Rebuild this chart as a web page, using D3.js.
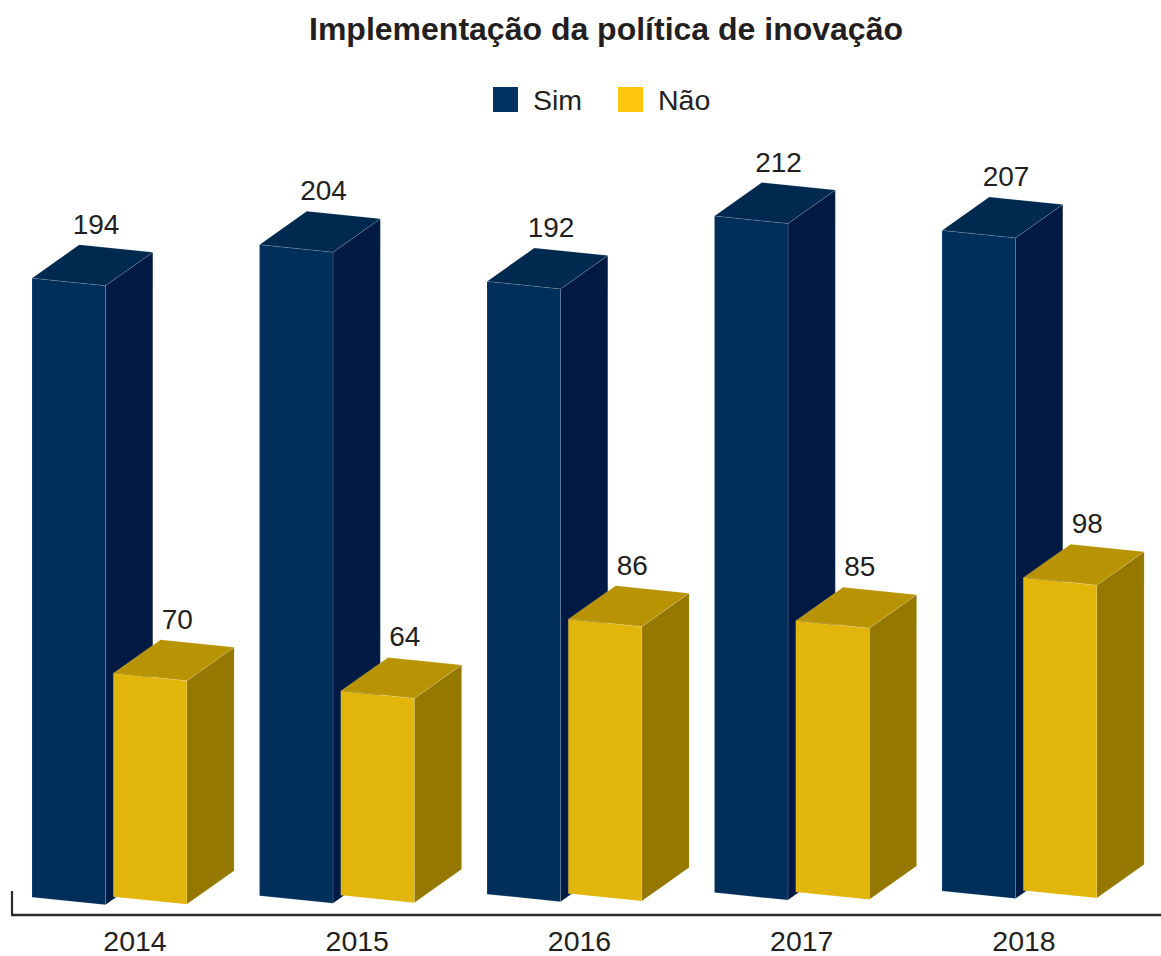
<!DOCTYPE html>
<html>
<head>
<meta charset="utf-8">
<script src="https://cdn.jsdelivr.net/npm/d3@7/dist/d3.min.js"></script>
<style>
  html, body { margin: 0; padding: 0; background: #ffffff; }
  svg { display: block; }
  text { font-family: "Liberation Sans", Arial, Helvetica, sans-serif; fill: #231f20; }
</style>
</head>
<body>
<svg id="chart" width="1161" height="956"></svg>
<script>
// ---- data ----
const title = "Implementação da política de inovação";
const years = ["2014", "2015", "2016", "2017", "2018"];
const seriesNames = ["Sim", "Não"];
const simValues = [194, 204, 192, 212, 207];
const naoValues = [70, 64, 86, 85, 98];

// ---- styles ----
const palette = {
  "Sim": { legend: "#003262", front: "#002f5c", top: "#00294f", side: "#001a43" },
  "Não": { legend: "#ffc60b", front: "#e2b50b", top: "#b89405", side: "#957800" }
};

const W = 1161, H = 956;
const svg = d3.select("#chart");

// scales
const xGroup = d3.scalePoint().domain(years).range([32, 942]);
const xLabel = d3.scalePoint().domain(years).range([135, 1024]);
const xSeries = d3.scaleOrdinal().domain(seriesNames).range([0, 81.3]);
const hScale = d3.scaleLinear().domain([0, 212]).range([0, 676.5]);
// slight tilt of the floor across the chart
const baseY = d3.scaleLinear().domain([32, 942]).range([897.3, 891]);

// box geometry (oblique projection)
const frontW = { dx: 73.5, dy: 7.5 };
const depth = { dx: 47.3, dy: -33.5 };

const rows = [];
years.forEach((y, i) => {
  rows.push({ year: y, series: "Sim", value: simValues[i] });
  rows.push({ year: y, series: "Não", value: naoValues[i] });
});

function boxPts(d) {
  const x0 = xGroup(d.year) + xSeries(d.series);
  const yb = baseY(x0);
  const h = hScale(d.value);
  const yt = yb - h;
  const fbl = [x0, yb], fbr = [x0 + frontW.dx, yb + frontW.dy];
  const ftl = [x0, yt], ftr = [x0 + frontW.dx, yt + frontW.dy];
  const btl = [ftl[0] + depth.dx, ftl[1] + depth.dy];
  const btr = [ftr[0] + depth.dx, ftr[1] + depth.dy];
  const bbr = [fbr[0] + depth.dx, fbr[1] + depth.dy];
  return { fbl, fbr, ftl, ftr, btl, btr, bbr };
}
const poly = pts => "M" + pts.map(p => p.join(",")).join("L") + "Z";

const gBars = svg.append("g");
const boxes = gBars.selectAll("g.box").data(rows).join("g").attr("class", "box");

boxes.append("path")
  .attr("d", d => { const p = boxPts(d); return poly([p.ftr, p.btr, p.bbr, p.fbr]); })
  .attr("fill", d => palette[d.series].side)
  .attr("stroke", "rgba(255,255,255,0.18)").attr("stroke-width", 0.7);

boxes.append("path")
  .attr("d", d => { const p = boxPts(d); return poly([p.ftl, p.btl, p.btr, p.ftr]); })
  .attr("fill", d => palette[d.series].top)
  .attr("stroke", "rgba(255,255,255,0.2)").attr("stroke-width", 0.7);

boxes.append("path")
  .attr("d", d => { const p = boxPts(d); return poly([p.ftl, p.ftr, p.fbr, p.fbl]); })
  .attr("fill", d => palette[d.series].front)
  .attr("stroke", "rgba(255,255,255,0.18)").attr("stroke-width", 0.7);

// value labels
svg.append("g").selectAll("text").data(rows).join("text")
  .attr("x", d => xGroup(d.year) + xSeries(d.series) + 64)
  .attr("y", d => boxPts(d).btl[1] - 11)
  .attr("text-anchor", "middle")
  .attr("font-size", 28)
  .text(d => d.value);

// axis
const axisY = 915;
svg.append("line").attr("x1", 11).attr("x2", W).attr("y1", axisY).attr("y2", axisY)
  .attr("stroke", "#2b2b2b").attr("stroke-width", 2.6);
svg.append("line").attr("x1", 12).attr("x2", 12).attr("y1", 891).attr("y2", axisY + 1)
  .attr("stroke", "#2b2b2b").attr("stroke-width", 2.2);

svg.append("g").selectAll("text").data(years).join("text")
  .attr("x", d => xLabel(d))
  .attr("y", 951)
  .attr("text-anchor", "middle")
  .attr("font-size", 28.5)
  .text(d => d);

// title
svg.append("text")
  .attr("x", 606).attr("y", 40)
  .attr("text-anchor", "middle")
  .attr("font-size", 32)
  .attr("font-weight", "bold")
  .text(title);

// legend
const legendX = d3.scaleOrdinal().domain(seriesNames).range([493, 618]);
const lg = svg.append("g").selectAll("g").data(seriesNames).join("g")
  .attr("transform", d => `translate(${legendX(d)},87)`);
lg.append("rect").attr("width", 25).attr("height", 25)
  .attr("fill", d => palette[d].legend);
lg.append("text").attr("x", 40).attr("y", 22.5).attr("font-size", 28.5).text(d => d);
</script>
</body>
</html>
